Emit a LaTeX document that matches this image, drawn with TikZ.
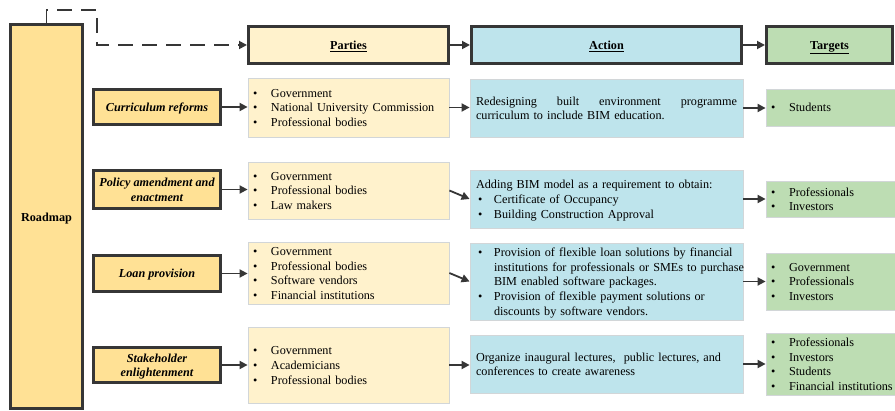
\documentclass[tikz,border=0pt]{standalone}
\usepackage{fontspec}
\setmainfont{Liberation Serif}
\usetikzlibrary{arrows.meta,shadows}
\definecolor{edge}{HTML}{363636}
\definecolor{roadfill}{HTML}{FFE195}
\definecolor{partyfill}{HTML}{FFF2CC}
\definecolor{actfill}{HTML}{BEE4EC}
\definecolor{tgtfill}{HTML}{BDDDB3}
\definecolor{thinedge}{HTML}{D2D6D8}
\newcommand{\fs}{\fontsize{12.2}{14.7}\selectfont}
\newcommand{\bu}{\textbullet}
\newcommand{\fr}{\rule{0pt}{13.3pt}}
\newcommand{\ctab}[1]{\begin{tabular}{@{}c@{}}\fr#1\end{tabular}}
\newcommand{\btab}[1]{\begin{tabular}{@{}p{18pt}@{}l@{}}\fr#1\end{tabular}}
\begin{document}
\begin{tikzpicture}[x=1pt,y=-1pt,
  shd/.style={drop shadow={shadow xshift=1pt,shadow yshift=-1.5pt,opacity=.18,fill=black!60!blue}},
  thickbox/.style={draw=edge,line width=3pt,font=\fs,inner sep=0pt,shd},
  lbox/.style={thickbox,fill=roadfill,font=\fs\bfseries\itshape,minimum width=127pt},
  hbox/.style={thickbox,minimum height=37pt,text height=9pt,text depth=0pt},
  thinbox/.style={draw=thinedge,line width=0.8pt,font=\fs,align=left,inner ysep=0pt,shd},
  pbox/.style={thinbox,fill=partyfill,inner xsep=5pt,text width=191pt},
  abox/.style={thinbox,fill=actfill,inner xsep=6pt,text width=261pt},
  tbox/.style={thinbox,fill=tgtfill,inner xsep=5pt,text width=119pt},
  arr/.style={draw=edge,line width=1.8pt,-{Triangle[length=8pt,width=8pt]}},
  darr/.style={arr,dash pattern=on 15pt off 9pt}
]
\useasboundingbox (0,0) rectangle (895,411);

% Roadmap
\node[thickbox,fill=roadfill,font=\fs\bfseries,minimum width=72pt,minimum height=384pt] (road) at (46.5,217) {\ctab{Roadmap}};

% headers
\node[hbox,fill=partyfill,minimum width=200pt] (hp) at (348.5,45) {\underline{\textbf{Parties}}};
\node[hbox,fill=actfill,minimum width=270pt] (ha) at (606.5,45) {\underline{\textbf{Action}}};
\node[hbox,fill=tgtfill,minimum width=126pt] (ht) at (829.5,45) {\underline{\textbf{Targets}}};

% left boxes
\node[lbox,minimum height=35pt] (l1) at (157,107) {\ctab{Curriculum reforms}};
\node[lbox,minimum height=38pt] (l2) at (157,189.5) {\ctab{Policy amendment and\\enactment}};
\node[lbox,minimum height=36pt] (l3) at (157,273.5) {\ctab{Loan provision}};
\node[lbox,minimum height=35pt] (l4) at (157,365) {\ctab{Stakeholder\\enlightenment}};

% parties
\node[pbox,minimum height=59pt] (p1) at (348.5,107.5) {\btab{\bu & Government\\ \bu & National University Commission\\ \bu & Professional bodies}};
\node[pbox,minimum height=57pt] (p2) at (348.5,190.5) {\btab{\bu & Government\\ \bu & Professional bodies\\ \bu & Law makers}};
\node[pbox,minimum height=58pt] (p3) at (348.5,273) {\btab{\bu & Government\\ \bu & Professional bodies\\ \bu & Software vendors\\ \bu & Financial institutions}};
\node[pbox,minimum height=76pt] (p4) at (348.5,365) {\btab{\bu & Government\\ \bu & Academicians\\ \bu & Professional bodies}};

% actions
\node[abox,minimum height=58pt] (a1) at (606.5,108) {\begin{tabular}{@{}l@{}}\fr\hbox to 261pt{Redesigning\hfill built\hfill environment\hfill programme}\\ curriculum to include BIM education.\end{tabular}};
\node[abox,minimum height=58pt] (a2) at (606.5,199) {\begin{tabular}{@{}p{18pt}@{}l@{}}\multicolumn{2}{@{}l@{}}{\fr Adding BIM model as a requirement to obtain:}\\ \hspace{2pt}\bu & Certificate of Occupancy\\ \hspace{2pt}\bu & Building Construction Approval\end{tabular}};
\node[abox,minimum height=77pt] (a3) at (606.5,281.5) {\btab{\hspace{2pt}\bu & Provision of flexible loan solutions by financial\\ & institutions for professionals or SMEs to purchase\\ & BIM enabled software packages.\\ \hspace{2pt}\bu & Provision of flexible payment solutions or\\ & discounts by software vendors.}};
\node[abox,minimum height=58pt] (a4) at (606.5,364) {\begin{tabular}{@{}l@{}}\fr Organize inaugural lectures,\ \ public lectures, and\\ conferences to create awareness\end{tabular}};

% targets
\node[tbox,minimum height=37pt] (t1) at (830.5,107.5) {\btab{\bu & Students}};
\node[tbox,minimum height=36pt] (t2) at (830.5,199) {\btab{\bu & Professionals\\ \bu & Investors}};
\node[tbox,minimum height=57pt] (t3) at (830.5,281.5) {\btab{\bu & Government\\ \bu & Professionals\\ \bu & Investors}};
\node[tbox,minimum height=58pt] (t4) at (830.5,364) {\btab{\bu & Professionals\\ \bu & Investors\\ \bu & Students\\ \bu & Financial institutions}};

% dashed connector
\coordinate (d1) at (97,10);
\draw[darr] (road.north) |- (d1) |- (hp.west);

% header arrows
\draw[arr] (hp.east) -- (ha.west);
\draw[arr] (ha.east) -- (ht.west);

% row arrows
\foreach \i in {1,2,3,4}{
  \draw[arr] (l\i.east) -- (l\i.east -| p\i.west);
  \draw[arr] (a\i.east) -- (a\i.east -| t\i.west);
}
\draw[arr] (p1.east) -- (p1.east -| a1.west);
\draw[arr] (p2.east) -- (a2.west);
\draw[arr] (p3.east) -- (a3.west);
\draw[arr] (p4.east) -- (p4.east -| a4.west);
\end{tikzpicture}
\end{document}
